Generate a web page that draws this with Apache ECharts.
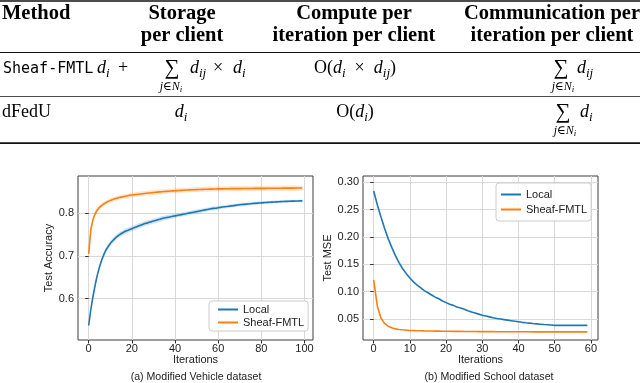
<!DOCTYPE html>
<html>
<head>
<meta charset="utf-8">
<script src="https://cdn.jsdelivr.net/npm/echarts@6/dist/echarts.min.js"></script>
<style>
  html, body { margin: 0; padding: 0; background: #fff; }
  #main { width: 640px; height: 383px; }
</style>
</head>
<body>
<div id="main"></div>
<script>
// table content
const tableHeaders = [['Method'], ['Storage', 'per client'], ['Compute per', 'iteration per client'], ['Communication per', 'iteration per client']]
const methods = ['Sheaf-FMTL', 'dFedU']

// chart content
const seriesNames = ['Local', 'Sheaf-FMTL']
const vehicleTicksX = [0, 20, 40, 60, 80, 100]
const vehicleTicksY = [0.6, 0.7, 0.8]
const schoolTicksX = [0, 10, 20, 30, 40, 50, 60]
const schoolTicksY = [0.05, 0.10, 0.15, 0.20, 0.25, 0.30]
const captions = ['(a) Modified Vehicle dataset', '(b) Modified School dataset']

// test accuracy per iteration (vehicle)
const vehicleLocal = [
  0.537, 0.575, 0.605, 0.632, 0.655, 0.674, 0.690, 0.703, 0.714, 0.722,
  0.729, 0.735, 0.740, 0.745, 0.749, 0.752, 0.755, 0.758, 0.760, 0.762,
  0.764, 0.766, 0.768, 0.770, 0.772, 0.774, 0.776, 0.777, 0.779, 0.780,
  0.782, 0.783, 0.785, 0.786, 0.788, 0.789, 0.790, 0.791, 0.792, 0.793,
  0.794, 0.795, 0.796, 0.797, 0.798, 0.799, 0.800, 0.801, 0.802, 0.803,
  0.804, 0.805, 0.806, 0.807, 0.808, 0.809, 0.810, 0.811, 0.8115, 0.812,
  0.813, 0.814, 0.8147, 0.8154, 0.816, 0.8167, 0.8174, 0.818, 0.8187, 0.8194,
  0.820, 0.8205, 0.821, 0.8215, 0.822, 0.8225, 0.823, 0.8234, 0.8238, 0.8242,
  0.8246, 0.825, 0.8254, 0.8257, 0.826, 0.8263, 0.8266, 0.8269, 0.8272, 0.8275,
  0.8277, 0.8279, 0.8281, 0.8283, 0.8285, 0.8287, 0.8289, 0.829, 0.8291, 0.8292
]
const vehicleSheaf = [
  0.705, 0.762, 0.786, 0.799, 0.808, 0.814, 0.818, 0.822, 0.825, 0.828,
  0.830, 0.832, 0.834, 0.835, 0.837, 0.838, 0.839, 0.840, 0.841, 0.842,
  0.843, 0.8436, 0.8442, 0.8448, 0.8454, 0.846, 0.8466, 0.8472, 0.8478, 0.8483,
  0.8488, 0.8493, 0.8498, 0.8503, 0.8507, 0.8511, 0.8515, 0.8519, 0.8523, 0.8527,
  0.853, 0.8533, 0.8536, 0.8539, 0.8542, 0.8545, 0.8548, 0.855, 0.8552, 0.8554,
  0.8556, 0.8558, 0.856, 0.8562, 0.8564, 0.8566, 0.8567, 0.8568, 0.857, 0.8571,
  0.8572, 0.8573, 0.8574, 0.8575, 0.8576, 0.8577, 0.8578, 0.8578, 0.8579, 0.858,
  0.858, 0.8581, 0.8581, 0.8582, 0.8582, 0.8583, 0.8583, 0.8584, 0.8584, 0.8585,
  0.8585, 0.8586, 0.8586, 0.8587, 0.8587, 0.8588, 0.8588, 0.8588, 0.8589, 0.8589,
  0.859, 0.859, 0.859, 0.8591, 0.8591, 0.8591, 0.8592, 0.8592, 0.8592, 0.8593
]
// half width of the shaded band
const vehicleLocalSpread = [
  0.003, 0.004, 0.004, 0.005, 0.005, 0.005, 0.006, 0.006, 0.006, 0.006,
  0.006, 0.006, 0.006, 0.006, 0.006, 0.006, 0.006, 0.006, 0.006, 0.006,
  0.006, 0.006, 0.006, 0.006, 0.006, 0.006, 0.006, 0.006, 0.006, 0.006,
  0.006, 0.006, 0.006, 0.006, 0.006, 0.0055, 0.0055, 0.0055, 0.0055, 0.0055,
  0.005, 0.005, 0.005, 0.005, 0.005, 0.005, 0.005, 0.005, 0.005, 0.005,
  0.005, 0.005, 0.005, 0.0045, 0.0045, 0.0045, 0.0045, 0.0045, 0.0045, 0.0045,
  0.004, 0.004, 0.004, 0.004, 0.004, 0.004, 0.004, 0.004, 0.004, 0.004,
  0.004, 0.004, 0.004, 0.0035, 0.0035, 0.0035, 0.0035, 0.0035, 0.0035, 0.0035,
  0.003, 0.003, 0.003, 0.003, 0.003, 0.003, 0.003, 0.003, 0.003, 0.003,
  0.003, 0.003, 0.003, 0.003, 0.003, 0.003, 0.003, 0.003, 0.003, 0.003
]
const vehicleSheafSpread = [
  0.003, 0.006, 0.006, 0.006, 0.006, 0.005, 0.005, 0.005, 0.005, 0.005,
  0.005, 0.005, 0.005, 0.005, 0.005, 0.005, 0.005, 0.005, 0.005, 0.005,
  0.0055, 0.0055, 0.0055, 0.0055, 0.0055, 0.0055, 0.0055, 0.0055, 0.0055, 0.0055,
  0.0055, 0.0055, 0.0055, 0.0055, 0.0055, 0.0055, 0.0055, 0.0055, 0.0055, 0.0055,
  0.0055, 0.0055, 0.0055, 0.0055, 0.0055, 0.0055, 0.0055, 0.0055, 0.0055, 0.0055,
  0.006, 0.006, 0.006, 0.006, 0.006, 0.006, 0.006, 0.006, 0.006, 0.006,
  0.006, 0.006, 0.006, 0.006, 0.006, 0.006, 0.006, 0.006, 0.006, 0.006,
  0.006, 0.006, 0.006, 0.006, 0.006, 0.006, 0.006, 0.006, 0.006, 0.006,
  0.006, 0.006, 0.006, 0.006, 0.006, 0.006, 0.006, 0.006, 0.006, 0.006,
  0.006, 0.006, 0.006, 0.006, 0.006, 0.006, 0.006, 0.006, 0.006, 0.006
]

// test MSE per iteration (school)
const schoolLocal = [
  0.284, 0.259, 0.237, 0.216, 0.197, 0.181, 0.166, 0.153, 0.142, 0.133,
  0.125, 0.118, 0.112, 0.107, 0.102, 0.098, 0.094, 0.090, 0.087, 0.083,
  0.080, 0.077, 0.075, 0.072, 0.070, 0.068, 0.065, 0.063, 0.061, 0.059,
  0.057, 0.0555, 0.054, 0.0525, 0.051, 0.050, 0.049, 0.048, 0.047, 0.046,
  0.045, 0.044, 0.0432, 0.0425, 0.0418, 0.0412, 0.0406, 0.040, 0.0395, 0.039,
  0.0385, 0.0385, 0.0385, 0.0385, 0.0385, 0.0385, 0.0385, 0.0385, 0.0385, 0.0385
]
const schoolSheaf = [
  0.121, 0.074, 0.052, 0.042, 0.037, 0.034, 0.032, 0.031, 0.0303, 0.0297,
  0.0292, 0.029, 0.0287, 0.0285, 0.0283, 0.0282, 0.0281, 0.028, 0.0279, 0.0278,
  0.0277, 0.0276, 0.0275, 0.0275, 0.0274, 0.0273, 0.0273, 0.0272, 0.0272, 0.0271,
  0.0271, 0.027, 0.027, 0.027, 0.0269, 0.0269, 0.0269, 0.0268, 0.0268, 0.0268,
  0.0267, 0.0267, 0.0267, 0.0267, 0.0266, 0.0266, 0.0266, 0.0266, 0.0266, 0.0265,
  0.0265, 0.0265, 0.0265, 0.0265, 0.0265, 0.0265, 0.0265, 0.0265, 0.0265, 0.0265
]

const BLUE = '#1f77b4'
const ORANGE = '#ff7f0e'
const SANS = '"Liberation Sans", Arial, sans-serif'
const SERIF = '"Liberation Serif", "DejaVu Serif", serif'

// 字体样式
const fonts = {
  bf: { size: 20.5, font: 'bold 20.5px ' + SERIF, dy: 0 },
  rm: { size: 18, font: '18px ' + SERIF, dy: 0 },
  it: { size: 18, font: 'italic 18px ' + SERIF, dy: 0 },
  sub: { size: 13, font: 'italic 13px ' + SERIF, dy: 4 },
  tt: { size: 15, font: '15px "DejaVu Sans Mono", monospace', dy: 0 },
  op: { size: 21, font: '21px ' + SERIF, dy: 2 },
  lim: { size: 12, font: 'italic 12px ' + SERIF, dy: 0 },
  limrm: { size: 12, font: '12px ' + SERIF, dy: 0 },
  limsub: { size: 9, font: 'italic 9px ' + SERIF, dy: 2 }
}

const measureCtx = document.createElement('canvas').getContext('2d')
const textWidth = function (s, font) {
  measureCtx.font = font
  return measureCtx.measureText(s).width
}

const elements = []

// 一行文字，按基线放置
const run = function (x, baseline, tokens, align) {
  let total = 0
  tokens.forEach(t => { total += textWidth(t[0], fonts[t[1]].font) })
  let cx = align === 'center' ? x - total / 2 : x
  tokens.forEach(t => {
    let f = fonts[t[1]]
    elements.push({
      type: 'text',
      x: cx,
      y: baseline + f.dy - 0.34 * f.size,
      style: { text: t[0], font: f.font, fill: '#000', textAlign: 'left', textVerticalAlign: 'middle' }
    })
    cx += textWidth(t[0], f.font)
  })
}

const rule = function (y, h) {
  elements.push({ type: 'rect', shape: { x: 0, y: y, width: 640, height: h }, style: { fill: '#111' } })
}

const sumLimit = function (x, baseline) {
  run(x, baseline, [['j', 'lim'], ['\u2208', 'limrm'], ['N', 'lim'], ['i', 'limsub']], 'center')
}

// 表格
rule(0.2, 1.6)
rule(52, 0.9)
rule(96.2, 0.9)
rule(142.3, 1.6)

run(2, 21, [[tableHeaders[0][0], 'bf']])
const headerCenters = [0, 182, 354, 552]
for (let c = 1; c < tableHeaders.length; c++) {
  run(headerCenters[c], 21, [[tableHeaders[c][0], 'bf']], 'center')
  run(headerCenters[c], 43, [[tableHeaders[c][1], 'bf']], 'center')
}

// Sheaf-FMTL row
run(3, 74, [[methods[0], 'tt']])
run(97, 74, [['d', 'it'], ['i', 'sub']])
run(123, 74, [['+', 'rm']], 'center')
run(172, 74, [['\u2211', 'op']], 'center')
sumLimit(171, 91)
run(190, 74, [['d', 'it'], ['ij', 'sub']])
run(218, 74, [['\u00d7', 'rm']], 'center')
run(233, 74, [['d', 'it'], ['i', 'sub']])
run(355, 74, [['O', 'rm'], ['(', 'rm'], ['d', 'it'], ['i', 'sub'], ['\u2002\u00d7\u2002', 'rm'], ['d', 'it'], ['ij', 'sub'], [')', 'rm']], 'center')
run(561, 74, [['\u2211', 'op']], 'center')
sumLimit(563, 91)
run(577, 74, [['d', 'it'], ['ij', 'sub']])

// dFedU row
run(2, 118, [[methods[1], 'rm']])
run(181, 118, [['d', 'it'], ['i', 'sub']], 'center')
run(355, 118, [['O', 'rm'], ['(', 'rm'], ['d', 'it'], ['i', 'sub'], [')', 'rm']], 'center')
run(563, 118, [['\u2211', 'op']], 'center')
sumLimit(565, 135)
run(580, 118, [['d', 'it'], ['i', 'sub']])

// 图注
elements.push({ type: 'text', x: 196, y: 377, style: { text: captions[0], font: '10.6px ' + SANS, fill: '#222', textAlign: 'center', textVerticalAlign: 'middle' } })
elements.push({ type: 'text', x: 489, y: 377, style: { text: captions[1], font: '10.6px ' + SANS, fill: '#222', textAlign: 'center', textVerticalAlign: 'middle' } })

// 坐标轴
const makeX = function (grid, min, max, ticks) {
  return {
    type: 'value', gridIndex: grid, min: min, max: max,
    name: 'Iterations', nameLocation: 'middle', nameGap: 14,
    nameTextStyle: { fontFamily: SANS, fontSize: 11, color: '#222' },
    axisLine: { show: false },
    axisTick: { customValues: ticks, length: 3.5, lineStyle: { color: '#333' } },
    axisLabel: { customValues: ticks, margin: 3, fontFamily: SANS, fontSize: 11, color: '#222' },
    splitLine: { show: true, lineStyle: { color: '#d9d9d9', width: 1 } }
  }
}
const makeY = function (grid, min, max, ticks, name, gap, digits) {
  return {
    type: 'value', gridIndex: grid, min: min, max: max,
    name: name, nameLocation: 'middle', nameGap: gap,
    nameTextStyle: { fontFamily: SANS, fontSize: 11, color: '#222' },
    axisLine: { show: false },
    axisTick: { customValues: ticks, length: 3.5, lineStyle: { color: '#333' } },
    axisLabel: { customValues: ticks, margin: 4, fontFamily: SANS, fontSize: 11, color: '#222', formatter: v => v.toFixed(digits) },
    splitLine: { show: true, lineStyle: { color: '#d9d9d9', width: 1 } }
  }
}

// 阴影带
const band = function (axisIndex, mean, spread, color) {
  return {
    type: 'custom', xAxisIndex: axisIndex, yAxisIndex: axisIndex, silent: true, z: 1,
    data: [[0, mean[0]]],
    renderItem: function (params, api) {
      let pts = []
      for (let i = 0; i < mean.length; i++) pts.push(api.coord([i, mean[i] + spread[i]]))
      for (let i = mean.length - 1; i >= 0; i--) pts.push(api.coord([i, mean[i] - spread[i]]))
      return { type: 'polygon', shape: { points: pts }, style: { fill: color, opacity: 0.2 } }
    }
  }
}

const line = function (axisIndex, name, values, color) {
  return {
    type: 'line', name: name, xAxisIndex: axisIndex, yAxisIndex: axisIndex,
    data: values.map((v, i) => [i, v]),
    symbol: 'none', showSymbol: false, z: 3,
    lineStyle: { color: color, width: 1.6 },
    itemStyle: { color: color }
  }
}

const legendBase = {
  data: seriesNames, orient: 'vertical', itemWidth: 20, itemHeight: 2,
  itemStyle: { opacity: 0 },
  backgroundColor: 'rgba(255,255,255,0.85)', borderColor: '#cccccc', borderWidth: 1, borderRadius: 3,
  textStyle: { fontFamily: SANS, fontSize: 11, color: '#222' }
}

const chart = echarts.init(document.getElementById('main'), null, { renderer: 'canvas' })
chart.setOption({
  animation: false,
  grid: [
    { left: 78, top: 176, width: 235, height: 164, show: true, borderColor: '#3c3c3c', borderWidth: 1, backgroundColor: 'transparent' },
    { left: 363, top: 176, width: 235, height: 164, show: true, borderColor: '#3c3c3c', borderWidth: 1, backgroundColor: 'transparent' }
  ],
  xAxis: [
    makeX(0, -4.95, 103.95, vehicleTicksX),
    makeX(1, -2.95, 61.95, schoolTicksX)
  ],
  yAxis: [
    makeY(0, 0.503, 0.8875, vehicleTicksY, 'Test Accuracy', 20, 1),
    makeY(1, 0.0117, 0.3115, schoolTicksY, 'Test MSE', 25, 2)
  ],
  legend: [
    Object.assign({}, legendBase, { left: 209, top: 301, padding: [3, 4, 3, 8], itemGap: 2 }),
    Object.assign({}, legendBase, { left: 496, top: 183, padding: [6, 4, 6, 4], itemGap: 4 })
  ],
  series: [
    band(0, vehicleLocal, vehicleLocalSpread, BLUE),
    band(0, vehicleSheaf, vehicleSheafSpread, ORANGE),
    line(0, seriesNames[0], vehicleLocal, BLUE),
    line(0, seriesNames[1], vehicleSheaf, ORANGE),
    line(1, seriesNames[0], schoolLocal, BLUE),
    line(1, seriesNames[1], schoolSheaf, ORANGE)
  ],
  graphic: { elements: elements }
})
</script>
</body>
</html>
